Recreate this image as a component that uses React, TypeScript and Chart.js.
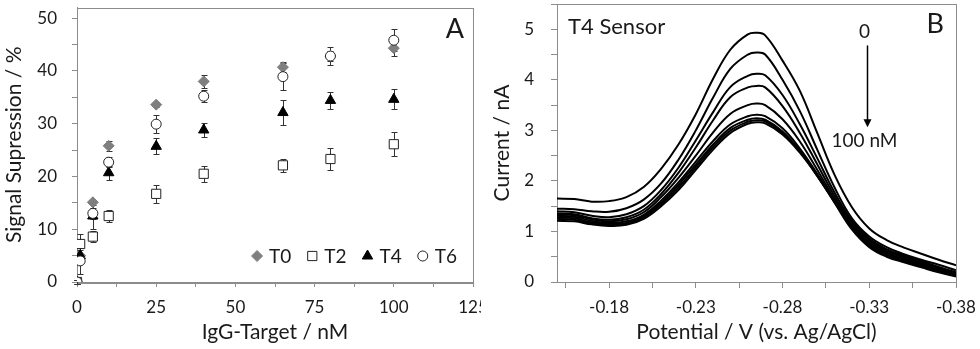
import React, { useEffect, useRef } from 'react';
import { Chart, registerables } from 'chart.js';

Chart.register(...registerables);

// ---------- Panel A data ----------
const targetConc = [0, 1, 5, 10, 25, 40, 65, 80, 100];
const t0Values = [0, 5.0, 15.1, 25.8, 33.6, 38.0, 40.7, 42.8, 44.3];
const t0Errors = [0.3, 1.0, 0.5, 1.0, 0.5, 1.3, 1.0, 1.0, 1.5];
const t2Values = [0, 7.2, 8.6, 12.5, 16.7, 20.5, 22.1, 23.3, 26.1];
const t2Errors = [0.3, 1.9, 1.0, 1.1, 1.75, 1.5, 1.25, 2.0, 2.3];
const t4Values = [0, 5.0, 12.5, 20.7, 25.7, 28.8, 32.1, 34.4, 34.6];
const t4Errors = [0.3, 1.5, 2.4, 1.3, 1.5, 1.4, 2.4, 1.6, 1.9];
const t6Values = [0, 4.0, 13.0, 22.7, 29.9, 35.2, 38.9, 42.8, 45.8];
const t6Errors = [0.3, 2.5, 1.0, 1.0, 1.7, 1.1, 2.6, 1.7, 2.1];
const seriesLabels = ['T0', 'T2', 'T4', 'T6'];
const signalTicks = [0, 5, 10, 15, 20, 25, 30, 35, 40, 45, 50];
const signalLabels = [0, 10, 20, 30, 40, 50];
const concTicks = [0, 12.5, 25, 37.5, 50, 62.5, 75, 87.5, 100, 112.5, 125];
const concLabels = [0, 25, 50, 75, 100, 125];

// ---------- Panel B data ----------
const potentials = [-0.15, -0.16, -0.17, -0.18, -0.19, -0.2, -0.21, -0.22, -0.23, -0.24, -0.25, -0.26, -0.265, -0.27, -0.28, -0.29, -0.3, -0.31, -0.32, -0.33, -0.34, -0.35, -0.36, -0.37, -0.38];
const current0nM = [1.65, 1.64, 1.59, 1.60, 1.68, 1.88, 2.24, 2.72, 3.32, 4.02, 4.60, 4.90, 4.93, 4.88, 4.38, 3.78, 2.95, 2.12, 1.48, 1.06, 0.83, 0.68, 0.56, 0.44, 0.33];
const current1nM = [1.45, 1.44, 1.40, 1.39, 1.46, 1.63, 1.95, 2.42, 3.00, 3.65, 4.22, 4.50, 4.54, 4.50, 4.00, 3.38, 2.62, 1.87, 1.26, 0.90, 0.69, 0.55, 0.44, 0.34, 0.23];
const current5nM = [1.40, 1.38, 1.31, 1.28, 1.34, 1.50, 1.82, 2.26, 2.80, 3.36, 3.86, 4.08, 4.12, 4.09, 3.70, 3.12, 2.45, 1.77, 1.21, 0.86, 0.65, 0.52, 0.41, 0.30, 0.19];
const current10nM = [1.36, 1.34, 1.26, 1.23, 1.28, 1.43, 1.74, 2.16, 2.66, 3.20, 3.66, 3.85, 3.88, 3.85, 3.48, 2.95, 2.33, 1.70, 1.17, 0.83, 0.63, 0.50, 0.39, 0.28, 0.17];
const current25nM = [1.34, 1.32, 1.24, 1.20, 1.24, 1.38, 1.68, 2.06, 2.50, 2.96, 3.33, 3.50, 3.53, 3.50, 3.22, 2.78, 2.22, 1.64, 1.13, 0.80, 0.61, 0.48, 0.37, 0.27, 0.16];
const current40nM = [1.31, 1.29, 1.21, 1.17, 1.20, 1.33, 1.61, 1.97, 2.38, 2.79, 3.12, 3.28, 3.31, 3.28, 3.04, 2.64, 2.14, 1.60, 1.10, 0.77, 0.58, 0.45, 0.35, 0.25, 0.15];
const current65nM = [1.28, 1.26, 1.18, 1.15, 1.17, 1.30, 1.57, 1.92, 2.32, 2.72, 3.05, 3.21, 3.24, 3.21, 2.98, 2.60, 2.12, 1.59, 1.08, 0.75, 0.56, 0.43, 0.33, 0.23, 0.14];
const current80nM = [1.25, 1.23, 1.16, 1.13, 1.15, 1.28, 1.54, 1.87, 2.27, 2.67, 3.00, 3.17, 3.20, 3.18, 2.95, 2.58, 2.10, 1.58, 1.06, 0.72, 0.53, 0.41, 0.31, 0.21, 0.12];
const current100nM = [1.21, 1.20, 1.14, 1.11, 1.13, 1.25, 1.50, 1.82, 2.22, 2.62, 2.95, 3.13, 3.16, 3.14, 2.92, 2.56, 2.10, 1.57, 1.04, 0.69, 0.50, 0.39, 0.29, 0.19, 0.11];
const curveLabels = ['0 nM', '1 nM', '5 nM', '10 nM', '25 nM', '40 nM', '65 nM', '80 nM', '100 nM'];
const potentialTicks = [-0.38, -0.355, -0.33, -0.305, -0.28, -0.255, -0.23, -0.205, -0.18, -0.155];
const potentialLabels = [-0.18, -0.23, -0.28, -0.33, -0.38];

const FONT = 'Lato, "Open Sans", sans-serif';
const FRAME = '#8c8c8c';
const TEXT = '#1a1a1a';

const isIn = (list: number[], v: number) => list.some((p) => Math.abs(p - v) < 1e-6);

const framePlugin = {
  id: 'frame',
  beforeDatasetsDraw(chart: any) {
    const { ctx, chartArea: a } = chart;
    ctx.save();
    ctx.strokeStyle = FRAME;
    ctx.lineWidth = 1;
    ctx.strokeRect(Math.round(a.left) + 0.5, Math.round(a.top) + 0.5, Math.round(a.right - a.left), Math.round(a.bottom - a.top));
    ctx.restore();
  },
};

const errorSets = [t0Errors, t2Errors, t4Errors, t6Errors];
const valueSets = [t0Values, t2Values, t4Values, t6Values];

const errorBarPlugin = {
  id: 'errorBars',
  beforeDatasetsDraw(chart: any) {
    const { ctx } = chart;
    const x = chart.scales.x;
    const y = chart.scales.y;
    ctx.save();
    ctx.strokeStyle = '#333';
    ctx.lineWidth = 1;
    valueSets.forEach((vals, si) => {
      vals.forEach((v, i) => {
        const e = errorSets[si][i];
        const px = Math.round(x.getPixelForValue(targetConc[i])) + 0.5;
        const top = Math.round(y.getPixelForValue(v + e)) + 0.5;
        const bot = Math.round(y.getPixelForValue(v - e)) + 0.5;
        ctx.beginPath();
        ctx.moveTo(px, top);
        ctx.lineTo(px, bot);
        ctx.moveTo(px - 3, top);
        ctx.lineTo(px + 3, top);
        ctx.moveTo(px - 3, bot);
        ctx.lineTo(px + 3, bot);
        ctx.stroke();
      });
    });
    ctx.restore();
  },
};

function drawMarker(ctx: CanvasRenderingContext2D, style: string, r: number, x: number, y: number) {
  ctx.beginPath();
  if (style === 'rectRot') {
    ctx.moveTo(x - r, y);
    ctx.lineTo(x, y - r);
    ctx.lineTo(x + r, y);
    ctx.lineTo(x, y + r);
    ctx.closePath();
  } else if (style === 'rect') {
    const s = Math.SQRT1_2 * r;
    ctx.rect(x - s, y - s, 2 * s, 2 * s);
  } else if (style === 'triangle') {
    ctx.moveTo(x, y - r);
    ctx.lineTo(x + Math.sin(2 * Math.PI / 3) * r, y - Math.cos(2 * Math.PI / 3) * r);
    ctx.lineTo(x + Math.sin(4 * Math.PI / 3) * r, y - Math.cos(4 * Math.PI / 3) * r);
    ctx.closePath();
  } else {
    ctx.arc(x, y, r, 0, Math.PI * 2);
  }
  ctx.fill();
  ctx.stroke();
}

const legendPlugin = {
  id: 'insideLegend',
  afterDatasetsDraw(chart: any) {
    const { ctx, chartArea: a } = chart;
    ctx.save();
    ctx.font = `19px ${FONT}`;
    ctx.textBaseline = 'middle';
    const datasets = chart.data.datasets;
    const widths = datasets.map((d: any) => ctx.measureText(d.label).width);
    const markerToText = 12;
    const textToMarker = 21;
    let total = 5;
    widths.forEach((w: number, i: number) => {
      total += markerToText + w + (i < widths.length - 1 ? textToMarker : 0);
    });
    let cx = a.right - 16 - total + 5;
    const cy = a.bottom - 26;
    datasets.forEach((d: any, i: number) => {
      ctx.save();
      ctx.fillStyle = d.backgroundColor;
      ctx.strokeStyle = d.borderColor;
      ctx.lineWidth = d.borderWidth;
      drawMarker(ctx, d.pointStyle, d.pointRadius, cx, cy);
      ctx.restore();
      ctx.fillStyle = TEXT;
      ctx.fillText(d.label, cx + markerToText, cy + 1);
      cx += markerToText + widths[i] + textToMarker;
    });
    ctx.fillStyle = TEXT;
    ctx.font = `27px ${FONT}`;
    ctx.textAlign = 'right';
    ctx.fillText('A', a.right - 9, a.top + 22);
    ctx.restore();
  },
};

const annotationPlugin = {
  id: 'panelBText',
  afterDatasetsDraw(chart: any) {
    const { ctx, chartArea: a } = chart;
    const x = chart.scales.x;
    const y = chart.scales.y;
    ctx.save();
    ctx.fillStyle = TEXT;
    ctx.textBaseline = 'middle';
    ctx.font = `22px ${FONT}`;
    ctx.textAlign = 'left';
    ctx.fillText('T4 Sensor', a.left + 11, a.top + 23);
    ctx.font = `27px ${FONT}`;
    ctx.textAlign = 'right';
    ctx.fillText('B', a.right - 12, a.top + 20);
    // arrow 0 -> 100 nM
    const ax = Math.round(x.getPixelForValue(-0.3285)) + 0.5;
    const y0 = y.getPixelForValue(4.68);
    const y1 = y.getPixelForValue(3.06);
    ctx.font = `19px ${FONT}`;
    ctx.textAlign = 'center';
    ctx.fillText('0', ax - 3, y.getPixelForValue(4.94));
    ctx.fillText('100 nM', ax - 3, y.getPixelForValue(2.8));
    ctx.strokeStyle = '#000';
    ctx.lineWidth = 1.5;
    ctx.beginPath();
    ctx.moveTo(ax, y0);
    ctx.lineTo(ax, y1 - 6);
    ctx.stroke();
    ctx.fillStyle = '#000';
    ctx.beginPath();
    ctx.moveTo(ax - 4, y1 - 8);
    ctx.lineTo(ax + 4, y1 - 8);
    ctx.lineTo(ax, y1);
    ctx.closePath();
    ctx.fill();
    ctx.restore();
  },
};

const tickFont = { family: FONT, size: 17 };
const titleFont = { family: FONT, size: 21 };

const fixX = (s: any) => { s.height = 67; s.paddingLeft = 0; s.paddingRight = 0; };
const fixY = (w: number) => (s: any) => { s.width = w; s.paddingTop = 0; s.paddingBottom = 0; };

function PanelA() {
  const ref = useRef<HTMLCanvasElement>(null);
  useEffect(() => {
    const styles = [
      { pointStyle: 'rectRot', pointRadius: 5.5, backgroundColor: '#7f7f7f', borderColor: '#7f7f7f', borderWidth: 1 },
      { pointStyle: 'rect', pointRadius: 6.5, backgroundColor: '#ffffff', borderColor: '#222', borderWidth: 1 },
      { pointStyle: 'triangle', pointRadius: 6, backgroundColor: '#000000', borderColor: '#000', borderWidth: 1 },
      { pointStyle: 'circle', pointRadius: 5, backgroundColor: '#ffffff', borderColor: '#222', borderWidth: 1 },
    ];
    const chart = new Chart(ref.current!, {
      type: 'scatter',
      data: {
        datasets: valueSets.map((vals, si) => ({
          label: seriesLabels[si],
          data: vals.map((v, i) => ({ x: targetConc[i], y: v })),
          ...styles[si],
          pointHoverRadius: styles[si].pointRadius,
          order: 3 - si,
        })) as any,
      },
      options: {
        responsive: false,
        animation: false,
        events: [],
        layout: { padding: { left: 0, right: 8, top: 3, bottom: 0 } },
        plugins: { legend: { display: false }, tooltip: { enabled: false } },
        scales: {
          x: {
            type: 'linear',
            min: 0,
            max: 125,
            afterFit: fixX,
            afterBuildTicks: (s: any) => { s.ticks = concTicks.map((v) => ({ value: v })); },
            grid: { drawOnChartArea: false, drawTicks: true, tickLength: 5, color: FRAME },
            border: { color: FRAME },
            ticks: {
              autoSkip: false,
              maxRotation: 0,
              padding: 10,
              color: TEXT,
              font: tickFont,
              callback: (v: any) => (isIn(concLabels, Number(v)) ? String(v) : ''),
            },
            title: { display: true, text: 'IgG-Target / nM', color: TEXT, font: titleFont, padding: { top: 0, bottom: 4 } },
          },
          y: {
            type: 'linear',
            min: 0,
            max: 52,
            afterFit: fixY(77),
            afterBuildTicks: (s: any) => { s.ticks = signalTicks.map((v) => ({ value: v })); },
            grid: { drawOnChartArea: false, drawTicks: true, tickLength: 5, color: FRAME },
            border: { color: FRAME },
            ticks: {
              autoSkip: false,
              padding: 15,
              color: TEXT,
              font: tickFont,
              callback: (v: any) => (isIn(signalLabels, Number(v)) ? String(v) : ''),
            },
            title: { display: true, text: 'Signal Supression / %', color: TEXT, font: titleFont, padding: { top: 2, bottom: 0 } },
          },
        },
      } as any,
      plugins: [framePlugin, errorBarPlugin, legendPlugin],
    });
    return () => chart.destroy();
  }, []);
  return <canvas ref={ref} width={481} height={349} style={{ width: 481, height: 349, display: 'block' }} />;
}

function PanelB() {
  const ref = useRef<HTMLCanvasElement>(null);
  useEffect(() => {
    const curves = [current0nM, current1nM, current5nM, current10nM, current25nM, current40nM, current65nM, current80nM, current100nM];
    const chart = new Chart(ref.current!, {
      type: 'scatter',
      data: {
        datasets: curves.map((c, ci) => ({
          label: curveLabels[ci],
          data: c.map((v, i) => ({ x: potentials[i], y: v })),
          showLine: true,
          borderColor: '#000',
          borderWidth: 2,
          pointRadius: 0,
          pointHoverRadius: 0,
          tension: 0.4,
          fill: false,
        })) as any,
      },
      options: {
        responsive: false,
        animation: false,
        events: [],
        layout: { padding: { left: 0, right: 24, top: 4, bottom: 0 } },
        plugins: { legend: { display: false }, tooltip: { enabled: false } },
        scales: {
          x: {
            type: 'linear',
            min: -0.38,
            max: -0.15,
            reverse: true,
            afterFit: fixX,
            afterBuildTicks: (s: any) => { s.ticks = potentialTicks.map((v) => ({ value: v })); },
            grid: { drawOnChartArea: false, drawTicks: true, tickLength: 6, color: FRAME },
            border: { color: FRAME },
            ticks: {
              autoSkip: false,
              maxRotation: 0,
              padding: 9,
              color: TEXT,
              font: tickFont,
              callback: (v: any) => {
                const n = Number(v);
                return isIn(potentialLabels, n) ? n.toFixed(2) : '';
              },
            },
            title: { display: true, text: 'Potential / V (vs. Ag/AgCl)', color: TEXT, font: titleFont, padding: { top: 0, bottom: 4 } },
          },
          y: {
            type: 'linear',
            min: 0,
            max: 5.5,
            afterFit: fixY(67),
            grid: { drawOnChartArea: false, drawTicks: true, tickLength: 6, color: FRAME },
            border: { color: FRAME },
            ticks: {
              stepSize: 0.5,
              autoSkip: false,
              padding: 17,
              color: TEXT,
              font: tickFont,
              callback: (v: any) => (Number.isInteger(Number(v)) ? String(v) : ''),
            },
            title: { display: true, text: 'Current / nA', color: TEXT, font: titleFont, padding: { top: 0, bottom: 0 } },
          },
        },
      } as any,
      plugins: [framePlugin, annotationPlugin],
    });
    return () => chart.destroy();
  }, []);
  return <canvas ref={ref} width={490} height={349} style={{ width: 490, height: 349, display: 'block' }} />;
}

export default function App() {
  return (
    <div style={{ position: 'fixed', left: 0, top: 0, width: 980, height: 349, background: '#fff', overflow: 'hidden' }}>
      <div style={{ position: 'absolute', left: 0, top: 0 }}>
        <PanelA />
      </div>
      <div style={{ position: 'absolute', left: 490, top: 0 }}>
        <PanelB />
      </div>
    </div>
  );
}
